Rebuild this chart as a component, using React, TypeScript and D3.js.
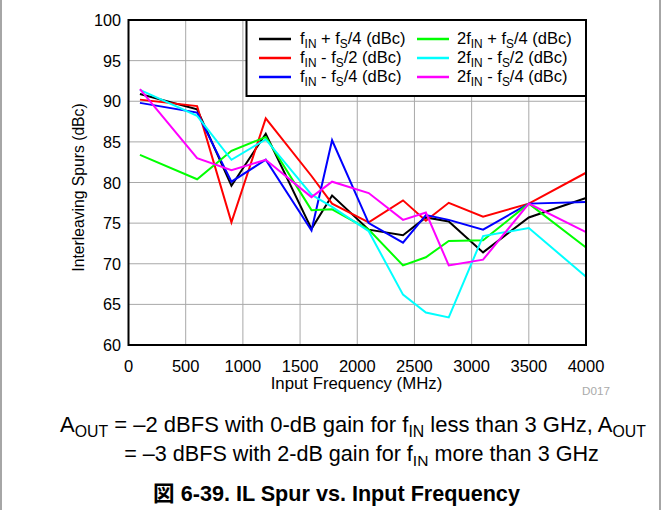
import React from "react";
import * as d3 from "d3";

const freqs = [100, 600, 900, 1200, 1600, 1780, 2100, 2400, 2600, 2800, 3100, 3500, 4000];

const fInPlusFs4 = [90.9, 89.0, 79.6, 86.0, 74.3, 78.4, 74.2, 73.5, 75.7, 75.2, 71.4, 75.7, 78.1];
const fInMinusFs2 = [90.2, 89.4, 75.1, 87.9, 80.8, 77.4, 75.1, 77.8, 75.3, 77.5, 75.8, 77.4, 81.2];
const fInMinusFs4 = [89.8, 88.6, 80.1, 82.8, 74.1, 85.2, 75.0, 72.6, 76.0, 75.4, 74.2, 77.4, 77.6];
const twoFInPlusFs4 = [83.4, 80.4, 83.9, 85.6, 76.6, 76.7, 74.2, 69.8, 70.8, 72.8, 72.9, 77.4, 72.0];
const twoFInMinusFs2 = [91.4, 88.2, 82.8, 85.3, 78.5, 77.0, 74.0, 66.2, 64.0, 63.4, 73.4, 74.4, 68.4];
const twoFInMinusFs4 = [91.5, 83.0, 81.5, 82.8, 78.2, 80.1, 78.7, 75.4, 76.3, 69.8, 70.5, 77.4, 73.9];

const xTicks = [0, 500, 1000, 1500, 2000, 2500, 3000, 3500, 4000];
const yTicks = [60, 65, 70, 75, 80, 85, 90, 95, 100];

// label pieces: [text, isSubscript]
type Piece = [string, boolean];

const series: { name: Piece[]; color: string; values: number[] }[] = [
  { name: [["f", false], ["IN", true], [" + f", false], ["S", true], ["/4 (dBc)", false]], color: "#000000", values: fInPlusFs4 },
  { name: [["f", false], ["IN", true], [" - f", false], ["S", true], ["/2 (dBc)", false]], color: "#ff0000", values: fInMinusFs2 },
  { name: [["f", false], ["IN", true], [" - f", false], ["S", true], ["/4 (dBc)", false]], color: "#0000ff", values: fInMinusFs4 },
  { name: [["2f", false], ["IN", true], [" + f", false], ["S", true], ["/4 (dBc)", false]], color: "#00ff00", values: twoFInPlusFs4 },
  { name: [["2f", false], ["IN", true], [" - f", false], ["S", true], ["/2 (dBc)", false]], color: "#00ffff", values: twoFInMinusFs2 },
  { name: [["2f", false], ["IN", true], [" - f", false], ["S", true], ["/4 (dBc)", false]], color: "#ff00ff", values: twoFInMinusFs4 },
];

const width = 662;
const height = 510;
const left = 128.5;
const right = 586;
const top = 20;
const bottom = 345;
const font = "'Liberation Sans', Arial, 'Noto Sans CJK JP', sans-serif";

const Rich = ({ pieces, x, y, size, anchor = "start", weight = "normal" }: {
  pieces: Piece[]; x: number; y: number; size: number; anchor?: string; weight?: string;
}) => {
  let shifted = false;
  return (
    <text x={x} y={y} fontSize={size} fontFamily={font} fontWeight={weight} textAnchor={anchor} fill="#000">
      {pieces.map(([t, sub], i) => {
        let dy = 0;
        if (sub && !shifted) { dy = size * 0.24; shifted = true; }
        else if (!sub && shifted) { dy = -size * 0.24; shifted = false; }
        return (
          <tspan key={i} dy={dy} fontSize={sub ? size * 0.72 : size}>{t}</tspan>
        );
      })}
    </text>
  );
};

const App = () => {
  const x = d3.scaleLinear().domain([0, 4000]).range([left, right]);
  const y = d3.scaleLinear().domain([60, 100]).range([bottom, top]);
  const line = d3.line<[number, number]>().x((d) => x(d[0])).y((d) => y(d[1]));

  const legX = 246.5;
  const legBottom = 96;
  const rows = [39, 58, 77];
  const cols = [{ line: 259, text: 300 }, { line: 417, text: 457 }];

  return (
    <svg width={width} height={height} style={{ position: "absolute", left: 0, top: 0 }}>
      <rect width={width} height={height} fill="#fff" />
      <line x1={1} x2={1} y1={0} y2={height} stroke="#888" strokeWidth={1.5} />
      <line x1={660} x2={660} y1={0} y2={height} stroke="#888" strokeWidth={1.5} />

      {/* grid */}
      {xTicks.map((t) => (
        <line key={"gx" + t} x1={x(t)} x2={x(t)} y1={top} y2={bottom} stroke="#a8a8a8" strokeWidth={1} />
      ))}
      {yTicks.map((t) => (
        <line key={"gy" + t} x1={left} x2={right} y1={y(t)} y2={y(t)} stroke="#a8a8a8" strokeWidth={1} />
      ))}

      {/* series */}
      <g fill="none" strokeWidth={2} strokeLinejoin="miter">
        {series.map((s) => (
          <path key={s.color} d={line(freqs.map((f, i) => [f, s.values[i]]) as [number, number][]) ?? ""} stroke={s.color} />
        ))}
      </g>

      {/* legend */}
      <rect x={legX} y={top} width={right - legX} height={legBottom - top} fill="#fff" stroke="#000" strokeWidth={2} />
      {series.map((s, i) => {
        const c = cols[Math.floor(i / 3)];
        const ry = rows[i % 3];
        return (
          <g key={"leg" + i}>
            <line x1={c.line} x2={c.line + 32} y1={ry} y2={ry} stroke={s.color} strokeWidth={2.5} />
            <Rich pieces={s.name} x={c.text} y={ry + 5} size={16.5} />
          </g>
        );
      })}

      {/* frame */}
      <rect x={left} y={top} width={right - left} height={bottom - top} fill="none" stroke="#000" strokeWidth={2} />

      {/* axes labels */}
      {yTicks.map((t) => (
        <text key={"yl" + t} x={121} y={y(t) + 6} textAnchor="end" fontSize={16.2} fontFamily={font}>{t}</text>
      ))}
      {xTicks.map((t) => (
        <text key={"xl" + t} x={x(t)} y={371.5} textAnchor="middle" fontSize={16.5} fontFamily={font}>{t}</text>
      ))}
      <text x={356.5} y={389} textAnchor="middle" fontSize={16.8} fontFamily={font}>Input Frequency (MHz)</text>
      <text transform={`translate(84,187.5) rotate(-90)`} textAnchor="middle" fontSize={15.7} fontFamily={font}>Interleaving Spurs (dBc)</text>
      <text x={610} y={395} textAnchor="end" fontSize={11.7} fill="#aaa" fontFamily={font}>D017</text>

      {/* caption */}
      <Rich
        pieces={[["A", false], ["OUT", true], [" = \u20132 dBFS with 0-dB gain for f", false], ["IN", true], [" less than 3 GHz, A", false], ["OUT", true]]}
        x={353} y={432} size={22} anchor="middle"
      />
      <Rich
        pieces={[["= \u20133 dBFS with 2-dB gain for f", false], ["IN", true], [" more than 3 GHz", false]]}
        x={361.5} y={460.5} size={21.6} anchor="middle"
      />
      <text x={336.5} y={501} textAnchor="middle" fontSize={21.6} fontWeight="bold" fontFamily={font}>図 6-39. IL Spur vs. Input Frequency</text>
    </svg>
  );
};

export default App;
